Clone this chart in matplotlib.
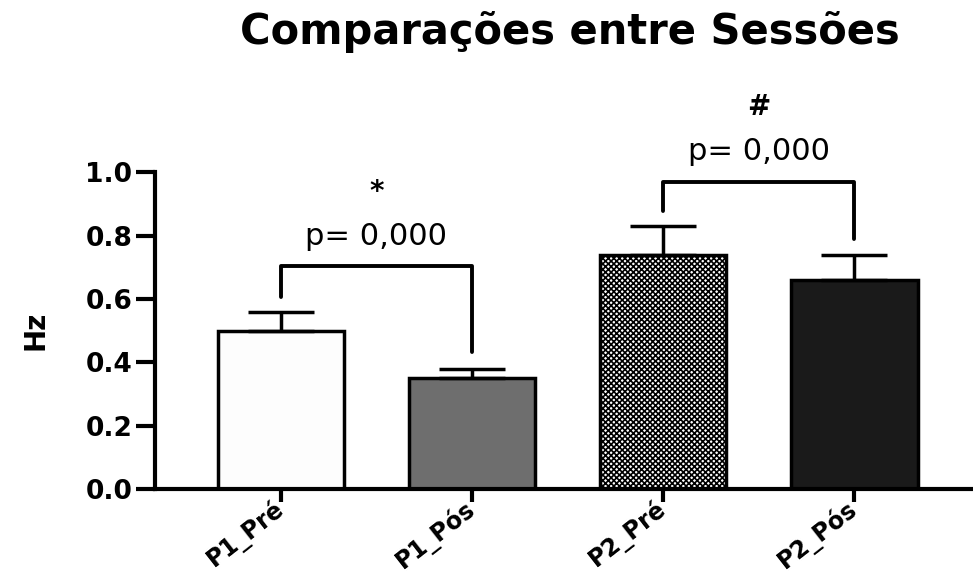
import matplotlib
matplotlib.use('Agg')
import matplotlib.pyplot as plt

# data
groups = ['P1_Pré', 'P1_Pós', 'P2_Pré', 'P2_Pós']
means = [0.50, 0.35, 0.74, 0.66]
sems = [0.06, 0.03, 0.09, 0.08]
bar_colors = ['#fdfdfd', '#6e6e6e', '#ffffff', '#1a1a1a']
bar_hatches = [None, None, 'xxxxxx', None]

# significance brackets: (left bar, right bar, height, left leg end, right leg end, p text, symbol)
brackets = [
    (0, 1, 0.703, 0.606, 0.432, 'p= 0,000', '*'),
    (2, 3, 0.970, 0.877, 0.790, 'p= 0,000', '#'),
]
yticks = [0.0, 0.2, 0.4, 0.6, 0.8, 1.0]

plt.rcParams['font.family'] = ['DejaVu Sans']
plt.rcParams['hatch.linewidth'] = 1.2

fig = plt.figure(figsize=(9.73, 5.76), dpi=100)
ax = fig.add_axes([0.159, 0.151, 0.841, 0.550])

x = range(len(groups))
for i in x:
    ax.bar(i, means[i], width=0.66, color=bar_colors[i], edgecolor='black',
           linewidth=2.5, hatch=bar_hatches[i], zorder=2)
    ax.errorbar(i, means[i], yerr=[[0], [sems[i]]], fmt='none', ecolor='black',
                elinewidth=2.5, capsize=24, capthick=2.5, zorder=3)

for a, b, h, la, lb, ptxt, sym in brackets:
    ax.plot([a, a, b, b], [la, h, h, lb], color='black', lw=2.8,
            solid_capstyle='round', clip_on=False)
    mid = (a + b) / 2
    ax.text(mid, h + 0.095, ptxt, ha='center', va='center', fontsize=22,
            clip_on=False)
    ax.text(mid, h + 0.235, sym, ha='center', va='center', fontsize=20,
            fontweight='bold', clip_on=False)

ax.set_xlim(-0.66, 3.62)
ax.set_ylim(0, 1.0)
ax.set_yticks(yticks)
ax.set_yticklabels([f'{t:.1f}' for t in yticks], fontsize=19, fontweight='bold')
ax.set_xticks(list(x))
ax.set_xticklabels(groups, fontsize=17, fontweight='bold', rotation=38,
                   ha='right', va='center', rotation_mode='anchor')

for side in ['top', 'right']:
    ax.spines[side].set_visible(False)
for side in ['left', 'bottom']:
    ax.spines[side].set_linewidth(3)
ax.tick_params(axis='y', length=14, width=3, pad=2)
ax.tick_params(axis='x', length=9, width=3, pad=3)

ax.set_ylabel('Hz', fontsize=20, fontweight='bold', labelpad=26)
fig.text(0.586, 0.945, 'Comparações entre Sessões', ha='center', va='center',
         fontsize=30, fontweight='bold')

plt.savefig('out.png', dpi=100)
